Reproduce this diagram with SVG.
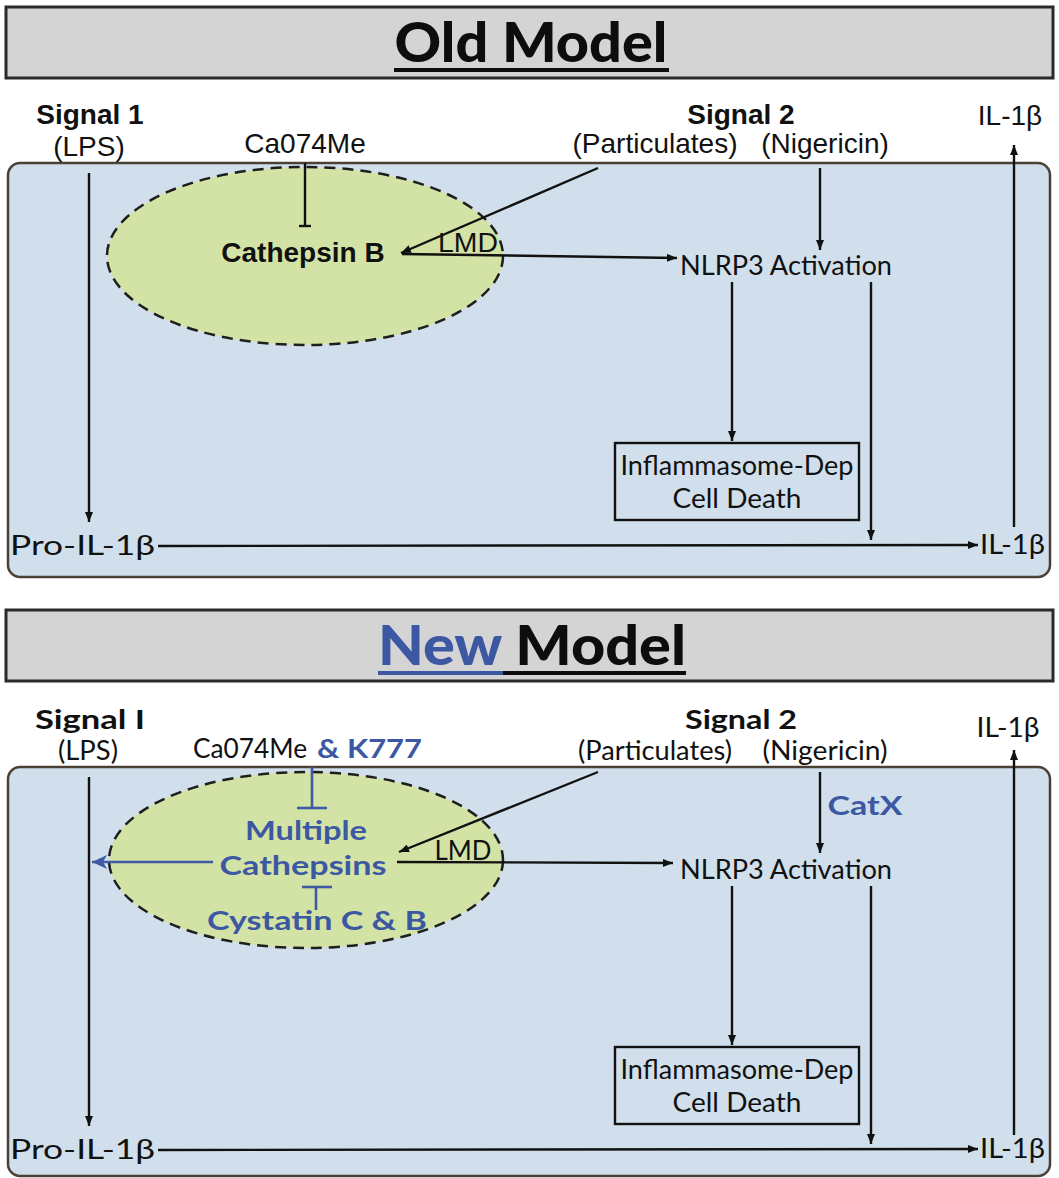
<svg xmlns="http://www.w3.org/2000/svg" width="1059" height="1178" viewBox="0 0 1059 1178">
  <style>
    .bar { fill: #d4d4d4; stroke: #2a2a2a; stroke-width: 3; }
    .cell { fill: #d0dfeb; stroke: #4a4036; stroke-width: 2.5; }
    .lyso { fill: #d3e3a6; stroke: #1e1e1e; stroke-width: 2.5; stroke-dasharray: 11 7; }
    .ln { stroke: #111; stroke-width: 2.4; fill: none; }
    .bl { stroke: #3e5aa3; stroke-width: 2.6; fill: none; }
    .box { fill: none; stroke: #111; stroke-width: 2.4; }
    .ar { font-family: "Liberation Sans", Arial, sans-serif; font-size: 28px; fill: #111; }
    .gs { font-family: Lato, "Liberation Sans", sans-serif; font-size: 27px; fill: #111; }
    .b { font-weight: bold; }
    .blue { fill: #3d58a3; font-weight: bold; }
    .ttl { font-family: Lato, "Liberation Sans", sans-serif; font-size: 56px; font-weight: 900; fill: #0d0d0d; }
    .mid { text-anchor: middle; }
  </style>
  <defs>
    <marker id="arr" markerUnits="userSpaceOnUse" markerWidth="10" markerHeight="8" refX="10" refY="4" orient="auto">
      <path d="M0,0 L10,4 L0,8 z" fill="#111"/>
    </marker>
    <marker id="arrB" markerUnits="userSpaceOnUse" markerWidth="16" markerHeight="14" refX="15" refY="7" orient="auto">
      <path d="M0,0 L15,7 L0,14 L4,7 z" fill="#3e5aa3"/>
    </marker>
  </defs>

  <!-- ===== Old model ===== -->
  <g id="title-old">
    <rect class="bar" x="6" y="7" width="1047" height="71"/>
    <text class="ttl mid" x="531" y="62" textLength="273" lengthAdjust="spacingAndGlyphs">Old Model</text>
    <line x1="394" y1="70" x2="669" y2="70" stroke="#0d0d0d" stroke-width="4"/>
  </g>

  <g id="cell-old">
    <rect class="cell" x="8" y="163" width="1042" height="414" rx="12"/>
  </g>
  <g id="lysosome-old">
    <ellipse class="lyso" cx="305" cy="256" rx="198" ry="89"/>
  </g>

  <g id="connectors-old">
    <line class="ln" x1="89" y1="173" x2="89" y2="522" marker-end="url(#arr)"/>
    <line class="ln" x1="305" y1="163" x2="305" y2="226"/>
    <line class="ln" x1="299" y1="226" x2="311" y2="226"/>
    <line class="ln" x1="598" y1="168" x2="401" y2="253" marker-end="url(#arr)"/>
    <line class="ln" x1="402" y1="254" x2="677" y2="258" marker-end="url(#arr)"/>
    <line class="ln" x1="820" y1="168" x2="820" y2="250" marker-end="url(#arr)"/>
    <line class="ln" x1="732" y1="282" x2="732" y2="441" marker-end="url(#arr)"/>
    <line class="ln" x1="871" y1="282" x2="871" y2="540" marker-end="url(#arr)"/>
    <line class="ln" x1="158" y1="546" x2="978" y2="545" marker-end="url(#arr)"/>
    <line class="ln" x1="1014" y1="527" x2="1014" y2="145" marker-end="url(#arr)"/>
  </g>

  <g id="signal1-old">
    <text class="ar b mid" x="90" y="124">Signal 1</text>
    <text class="ar mid" x="89" y="156">(LPS)</text>
  </g>
  <g id="ca074me-old">
    <text class="ar mid" x="305" y="153">Ca074Me</text>
  </g>
  <g id="cathepsinb-old">
    <text class="ar b mid" x="303" y="262" font-size="29">Cathepsin B</text>
  </g>
  <g id="lmd-old">
    <text class="ar mid" x="468" y="252" font-size="24" textLength="60" lengthAdjust="spacingAndGlyphs">LMD</text>
  </g>
  <g id="signal2-old">
    <text class="ar b mid" x="741" y="124">Signal 2</text>
    <text class="ar mid" x="655" y="153">(Particulates)</text>
    <text class="ar mid" x="825" y="153">(Nigericin)</text>
  </g>
  <g id="il1b-out-old">
    <text class="ar mid" x="1010" y="125">IL-1β</text>
  </g>
  <g id="nlrp3-old">
    <text class="gs mid" x="786" y="275" textLength="212" lengthAdjust="spacingAndGlyphs">NLRP3 Activation</text>
  </g>
  <g id="death-old">
    <rect class="box" x="615" y="443" width="244" height="77"/>
    <text class="gs mid" x="737" y="475" font-size="25" textLength="233" lengthAdjust="spacingAndGlyphs">Inflammasome-Dep</text>
    <text class="gs mid" x="737" y="508" font-size="25" textLength="129" lengthAdjust="spacingAndGlyphs">Cell Death</text>
  </g>
  <g id="proil1b-old">
    <text class="gs" x="10" y="555" textLength="145" lengthAdjust="spacingAndGlyphs">Pro-IL-1β</text>
  </g>
  <g id="il1b-old">
    <text class="gs" x="980" y="554" textLength="65" lengthAdjust="spacingAndGlyphs">IL-1β</text>
  </g>

  <!-- ===== New model ===== -->
  <g id="title-new">
    <rect class="bar" x="6" y="610" width="1047" height="71"/>
    <text class="ttl mid" x="532" y="665" textLength="308" lengthAdjust="spacingAndGlyphs"><tspan fill="#3d58a3">New</tspan> Model</text>
    <line x1="378" y1="673" x2="503" y2="673" stroke="#3d58a3" stroke-width="4"/>
    <line x1="503" y1="673" x2="686" y2="673" stroke="#0d0d0d" stroke-width="4"/>
  </g>

  <g id="cell-new">
    <rect class="cell" x="8" y="767" width="1042" height="409" rx="12"/>
  </g>
  <g id="lysosome-new">
    <ellipse class="lyso" cx="306" cy="860" rx="197" ry="88"/>
  </g>

  <g id="connectors-new">
    <line class="ln" x1="89" y1="777" x2="89" y2="1126" marker-end="url(#arr)"/>
    <line class="bl" x1="213" y1="862" x2="92" y2="862" marker-end="url(#arrB)"/>
    <line class="bl" x1="312" y1="767" x2="312" y2="808"/>
    <line class="bl" x1="297" y1="808" x2="327" y2="808"/>
    <line class="bl" x1="316" y1="910" x2="316" y2="887"/>
    <line class="bl" x1="302" y1="887" x2="332" y2="887"/>
    <line class="ln" x1="598" y1="772" x2="399" y2="852" marker-end="url(#arr)"/>
    <line class="ln" x1="397" y1="862" x2="673" y2="863" marker-end="url(#arr)"/>
    <line class="ln" x1="820" y1="772" x2="820" y2="853" marker-end="url(#arr)"/>
    <line class="ln" x1="732" y1="886" x2="732" y2="1045" marker-end="url(#arr)"/>
    <line class="ln" x1="871" y1="886" x2="871" y2="1144" marker-end="url(#arr)"/>
    <line class="ln" x1="158" y1="1150" x2="978" y2="1149" marker-end="url(#arr)"/>
    <line class="ln" x1="1014" y1="1135" x2="1014" y2="750" marker-end="url(#arr)"/>
  </g>

  <g id="signal1-new">
    <text class="gs b mid" x="90" y="729" font-size="28" textLength="110" lengthAdjust="spacingAndGlyphs">Signal I</text>
    <text class="gs mid" x="88" y="760" textLength="60" lengthAdjust="spacingAndGlyphs">(LPS)</text>
  </g>
  <g id="inhibitors-new">
    <text class="gs" x="193" y="758" textLength="114" lengthAdjust="spacingAndGlyphs">Ca074Me</text>
    <text class="gs blue" x="317" y="758" textLength="105" lengthAdjust="spacingAndGlyphs">&amp; K777</text>
  </g>
  <g id="cathepsins-new">
    <text class="gs blue mid" x="306" y="840" textLength="122" lengthAdjust="spacingAndGlyphs">Multiple</text>
    <text class="gs blue mid" x="303" y="875" textLength="167" lengthAdjust="spacingAndGlyphs">Cathepsins</text>
  </g>
  <g id="cystatin-new">
    <text class="gs blue mid" x="317" y="930" textLength="220" lengthAdjust="spacingAndGlyphs">Cystatin C &amp; B</text>
  </g>
  <g id="lmd-new">
    <text class="gs mid" x="463" y="860" font-size="25" textLength="57" lengthAdjust="spacingAndGlyphs">LMD</text>
  </g>
  <g id="signal2-new">
    <text class="gs b mid" x="741" y="729" font-size="28" textLength="112" lengthAdjust="spacingAndGlyphs">Signal 2</text>
    <text class="gs mid" x="655" y="760" textLength="154" lengthAdjust="spacingAndGlyphs">(Particulates)</text>
    <text class="gs mid" x="825" y="760" textLength="125" lengthAdjust="spacingAndGlyphs">(Nigericin)</text>
  </g>
  <g id="il1b-out-new">
    <text class="gs mid" x="1008" y="737" textLength="63" lengthAdjust="spacingAndGlyphs">IL-1β</text>
  </g>
  <g id="catx-new">
    <text class="gs blue mid" x="865" y="815" textLength="75" lengthAdjust="spacingAndGlyphs">CatX</text>
  </g>
  <g id="nlrp3-new">
    <text class="gs mid" x="786" y="879" textLength="212" lengthAdjust="spacingAndGlyphs">NLRP3 Activation</text>
  </g>
  <g id="death-new">
    <rect class="box" x="615" y="1047" width="244" height="77"/>
    <text class="gs mid" x="737" y="1079" font-size="25" textLength="233" lengthAdjust="spacingAndGlyphs">Inflammasome-Dep</text>
    <text class="gs mid" x="737" y="1112" font-size="25" textLength="129" lengthAdjust="spacingAndGlyphs">Cell Death</text>
  </g>
  <g id="proil1b-new">
    <text class="gs" x="10" y="1159" textLength="145" lengthAdjust="spacingAndGlyphs">Pro-IL-1β</text>
  </g>
  <g id="il1b-new">
    <text class="gs" x="980" y="1158" textLength="65" lengthAdjust="spacingAndGlyphs">IL-1β</text>
  </g>
</svg>
